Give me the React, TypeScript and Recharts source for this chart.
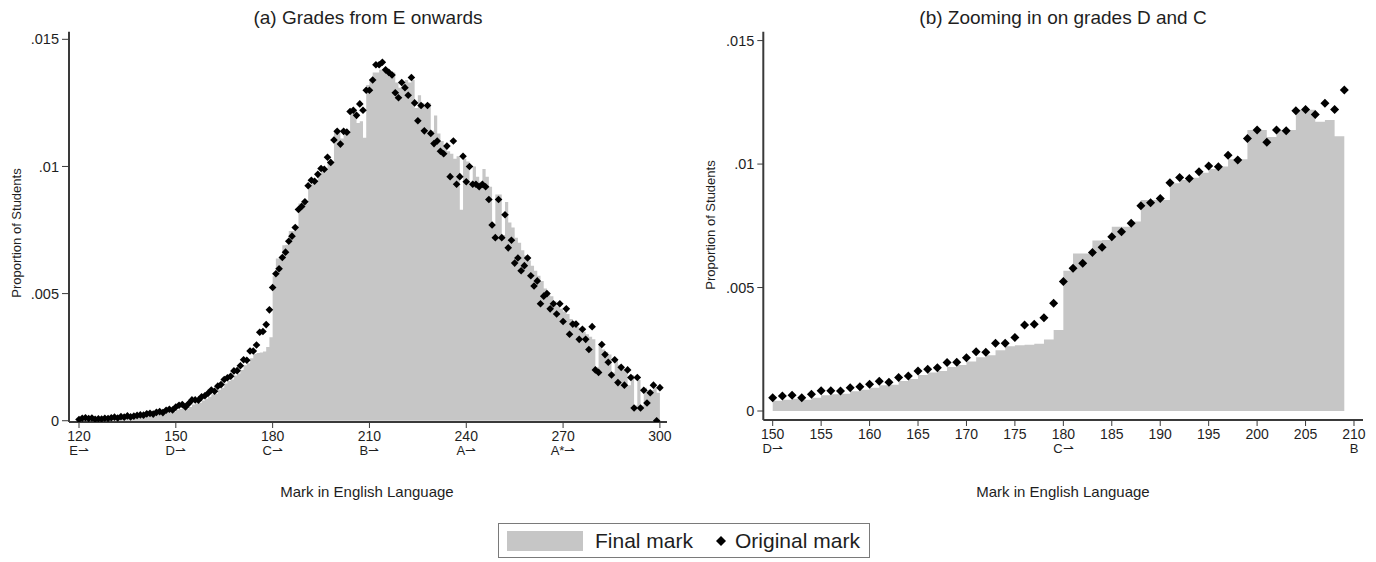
import React from 'react';
import { ComposedChart, Area, Scatter, XAxis, YAxis } from 'recharts';

// Share of students at each mark, 120..300
const FIRST_MARK = 120;

const ORIGINAL_SHARE = [
  0.00005, 0.0001, 0.00012, 0.00009, 0.00011, 0.00006, 0.00008, 0.00007, 0.0001, 0.00009,
  0.00012, 0.00014, 0.00011, 0.00016, 0.00014, 0.00019, 0.00015, 0.00018, 0.00021, 0.00023,
  0.00022, 0.00027, 0.00029, 0.00026, 0.00033, 0.00036, 0.00032, 0.00041, 0.00045, 0.00042,
  0.00054, 0.00061, 0.00064, 0.00054, 0.00068, 0.00082, 0.00082, 0.00081, 0.00094, 0.00098,
  0.00108, 0.00121, 0.00116, 0.00136, 0.00142, 0.00162, 0.00169, 0.00175, 0.00196, 0.00197,
  0.00216, 0.0024, 0.00238, 0.00274, 0.00274, 0.00298, 0.00348, 0.00351, 0.00378, 0.00436,
  0.00524, 0.00578, 0.00598, 0.00642, 0.00663, 0.00706, 0.00726, 0.0076, 0.00831, 0.00843,
  0.00861, 0.00924, 0.00946, 0.00942, 0.00969, 0.00992, 0.00989, 0.01036, 0.01016, 0.01104,
  0.01138, 0.01088, 0.01138, 0.01135, 0.01216, 0.01221, 0.01201, 0.01246, 0.01221, 0.013,
  0.013, 0.0134, 0.014, 0.014, 0.0141, 0.0138, 0.0137, 0.0136, 0.0129, 0.0127,
  0.0133, 0.0131, 0.0128, 0.0135, 0.0125, 0.0118, 0.0124, 0.0114, 0.0124, 0.0113,
  0.0109, 0.011, 0.0106, 0.0105, 0.0108, 0.0096, 0.011, 0.0093, 0.0096, 0.0104,
  0.0094, 0.01, 0.0093, 0.0093, 0.0092, 0.0093, 0.0092, 0.0087, 0.0077, 0.0072,
  0.0087, 0.0072, 0.0081, 0.0068, 0.0071, 0.0062, 0.0064, 0.0059, 0.0061, 0.0064,
  0.0057, 0.0053, 0.0055, 0.0046, 0.0049, 0.005, 0.0044, 0.0046, 0.0042, 0.0046,
  0.0039, 0.0044, 0.0034, 0.0038, 0.0038, 0.0032, 0.0036, 0.0032, 0.0028, 0.0037,
  0.002, 0.0019, 0.003, 0.0026, 0.0023, 0.0018, 0.0024, 0.0015, 0.0021, 0.0014,
  0.002, 0.0017, 0.0005, 0.0017, 0.0005, 0.0012, 0.0007, 0.0011, 0.0014, 0.0,
  0.0013,
];

const FINAL_SHARE = [
  0.00003, 0.00006, 0.00008, 0.00007, 0.00008, 0.00005, 0.00006, 0.00006, 0.00008, 0.00007,
  0.00009, 0.00011, 0.00009, 0.00012, 0.00011, 0.00015, 0.00012, 0.00014, 0.00017, 0.00019,
  0.00018, 0.00022, 0.00023, 0.00021, 0.00027, 0.00029, 0.00026, 0.00034, 0.00037, 0.00035,
  0.00042, 0.00046, 0.0005, 0.00046, 0.00054, 0.00064, 0.00068, 0.0007, 0.0008, 0.00086,
  0.00094, 0.00104, 0.00106, 0.00122, 0.0013, 0.00146, 0.00156, 0.00162, 0.00178, 0.00186,
  0.002, 0.00218, 0.00226, 0.00246, 0.00262, 0.00266, 0.00268, 0.00272, 0.0029, 0.00328,
  0.00568, 0.00638, 0.00638, 0.0069, 0.00692, 0.00746, 0.00746, 0.00767, 0.00854, 0.00854,
  0.00854, 0.00922, 0.00935, 0.00945, 0.00965, 0.0098, 0.0099, 0.0102, 0.0102, 0.01138,
  0.01138, 0.0111, 0.01138, 0.01138, 0.0122, 0.0122, 0.01171, 0.01178, 0.01113, 0.0132,
  0.0134, 0.0137, 0.0137, 0.0138, 0.0138, 0.0137, 0.0136, 0.0137, 0.0133, 0.0131,
  0.0132, 0.0134, 0.0133, 0.0134, 0.0123, 0.0128, 0.0125, 0.0124, 0.0125, 0.0114,
  0.012, 0.0113, 0.011, 0.0108, 0.0106, 0.0105, 0.0103, 0.0104, 0.0083, 0.0103,
  0.0102, 0.0094, 0.01, 0.0096, 0.0094, 0.0099, 0.0096, 0.0092, 0.0077, 0.0089,
  0.0089, 0.0073, 0.0086, 0.0078, 0.0076, 0.0072, 0.007, 0.0067, 0.0065, 0.0063,
  0.0061, 0.0059, 0.0057, 0.0055, 0.0052, 0.005, 0.0049, 0.0047, 0.0045, 0.0044,
  0.0043, 0.0042, 0.004, 0.0039, 0.0037, 0.0036, 0.0035, 0.0034, 0.0033, 0.0032,
  0.0021, 0.003, 0.0028, 0.0027, 0.0026, 0.0019, 0.0024, 0.0022, 0.0021, 0.002,
  0.0014, 0.0018, 0.0006, 0.0016, 0.0006, 0.0013, 0.0012, 0.0012, 0.0013, 0.0011,
  0.0012,
];

const SHARE_TICKS = [0, 0.005, 0.01, 0.015];
const SHARE_LABELS = ['0', '.005', '.01', '.015'];

const LEFT_TICKS = [120, 150, 180, 210, 240, 270, 300];
const LEFT_GRADES: Record<number, string> = {
  120: 'E⇀', 150: 'D⇀', 180: 'C⇀', 210: 'B⇀', 240: 'A⇀', 270: 'A*⇀',
};

const RIGHT_TICKS = [150, 155, 160, 165, 170, 175, 180, 185, 190, 195, 200, 205, 210];
const RIGHT_GRADES: Record<number, string> = { 150: 'D⇀', 180: 'C⇀', 210: 'B' };

const rows = ORIGINAL_SHARE.map((v, i) => ({
  mark: FIRST_MARK + i,
  original: v,
  final: FINAL_SHARE[i],
}));
const zoomRows = rows.filter((r) => r.mark >= 150 && r.mark <= 209);

const BAR_GREY = '#c6c6c6';
const AXIS_COL = '#3a3a3a';
const FRAME_COL = '#9a9a9a';
const TEXT_COL = '#1e1e1e';
const FONT = '"Liberation Sans", Arial, sans-serif';

const makeDiamond = (r: number) => (props: any) => {
  const { cx, cy } = props;
  if (cx == null || cy == null) return <g />;
  return (
    <polygon
      points={`${cx},${cy - r} ${cx + r},${cy} ${cx},${cy + r} ${cx - r},${cy}`}
      fill="#000"
    />
  );
};

// number on the first line, grade boundary under it
const makeMarkTick = (grades: Record<number, string>) => (props: any) => {
  const { x, y, payload } = props;
  const g = grades[payload.value];
  return (
    <g>
      <text x={x} y={y} dy="0.71em" textAnchor="middle" fontSize={14} fill={TEXT_COL}>
        {payload.value}
      </text>
      {g ? (
        <text x={x} y={y + 15} dy="0.71em" textAnchor="middle" fontSize={13} fill={TEXT_COL}>
          {g}
        </text>
      ) : null}
    </g>
  );
};

type PanelProps = {
  data: typeof rows;
  xDomain: [number, number];
  yDomain: [number, number];
  xTicks: number[];
  grades: Record<number, string>;
  margin: { top: number; right: number; bottom: number; left: number };
  width: number;
  height: number;
  dotR: number;
  tickSize: number;
};

const Panel = ({ data, xDomain, yDomain, xTicks, grades, margin, width, height, dotR, tickSize }: PanelProps) => (
  <ComposedChart width={width} height={height} data={data} margin={margin}>
    {/* light frame on the top and right */}
    <XAxis
      xAxisId="frame"
      orientation="top"
      type="number"
      domain={xDomain}
      allowDataOverflow
      tick={false}
      tickLine={false}
      height={0}
      axisLine={{ stroke: FRAME_COL, strokeWidth: 1.5 }}
    />
    <YAxis
      yAxisId="frame"
      orientation="right"
      type="number"
      domain={yDomain}
      allowDataOverflow
      tick={false}
      tickLine={false}
      width={0}
      axisLine={{ stroke: FRAME_COL, strokeWidth: 1.5 }}
    />
    <XAxis
      dataKey="mark"
      type="number"
      domain={xDomain}
      allowDataOverflow
      ticks={xTicks}
      interval={0}
      height={85}
      tickSize={6}
      tickMargin={3}
      tickLine={{ stroke: AXIS_COL }}
      axisLine={{ stroke: AXIS_COL, strokeWidth: 2 }}
      tick={makeMarkTick(grades)}
    />
    <YAxis
      type="number"
      domain={yDomain}
      allowDataOverflow
      ticks={SHARE_TICKS}
      interval={0}
      width={60}
      tickSize={tickSize}
      tickMargin={3}
      tickLine={{ stroke: AXIS_COL }}
      axisLine={{ stroke: AXIS_COL, strokeWidth: 2 }}
      tick={{ fontSize: 14.5, fill: TEXT_COL }}
      tickFormatter={(v: number) => SHARE_LABELS[SHARE_TICKS.indexOf(v)] ?? String(v)}
    />
    <Area
      dataKey="final"
      type="stepAfter"
      stroke="none"
      fill={BAR_GREY}
      fillOpacity={1}
      isAnimationActive={false}
      dot={false}
      activeDot={false}
    />
    <Scatter dataKey="original" shape={makeDiamond(dotR)} isAnimationActive={false} />
  </ComposedChart>
);

const Title = ({ text, left, width }: { text: string; left: number; width: number }) => (
  <div style={{ position: 'absolute', left, width, top: 8, textAlign: 'center', fontSize: 19, lineHeight: '20px', color: TEXT_COL }}>
    {text}
  </div>
);

const AxisTitle = ({ text, cx, cy, rotate }: { text: string; cx: number; cy: number; rotate?: boolean }) => (
  <div
    style={{
      position: 'absolute',
      left: cx - 150,
      top: cy - 10,
      width: 300,
      height: 20,
      lineHeight: '20px',
      textAlign: 'center',
      fontSize: rotate ? 13 : 15,
      color: TEXT_COL,
      transform: rotate ? 'rotate(-90deg)' : undefined,
    }}
  >
    {text}
  </div>
);

export default function App() {
  return (
    <div style={{ position: 'absolute', left: 0, top: 0, width: 1376, height: 562, background: '#fff', fontFamily: FONT, overflow: 'hidden' }}>
      <Title text="(a) Grades from E onwards" left={69} width={598} />
      <Title text="(b) Zooming in on grades D and C" left={763} width={600} />

      <div style={{ position: 'absolute', left: 0, top: 0 }}>
        <Panel
          data={rows}
          xDomain={[116.9, 302.2]}
          yDomain={[-0.00005, 0.0153]}
          xTicks={LEFT_TICKS}
          grades={LEFT_GRADES}
          margin={{ top: 31.7, right: 33, bottom: 13, left: 9 }}
          width={700}
          height={520}
          dotR={3.8}
          tickSize={7}
        />
      </div>
      <div style={{ position: 'absolute', left: 690, top: 0 }}>
        <Panel
          data={zoomRows}
          xDomain={[149.03, 210.93]}
          yDomain={[-0.000364, 0.01536]}
          xTicks={RIGHT_TICKS}
          grades={RIGHT_GRADES}
          margin={{ top: 31.7, right: 13, bottom: 15, left: 13.3 }}
          width={686}
          height={520}
          dotR={4.5}
          tickSize={6}
        />
      </div>

      <AxisTitle text="Proportion of Students" cx={17} cy={233} rotate />
      <AxisTitle text="Proportion of Students" cx={711} cy={225} rotate />
      <AxisTitle text="Mark in English Language" cx={367} cy={492} />
      <AxisTitle text="Mark in English Language" cx={1063} cy={492} />

      {/* legend */}
      <div
        style={{
          position: 'absolute',
          left: 498,
          top: 523,
          width: 370,
          height: 33,
          border: '1.5px solid #7a7a7a',
          display: 'flex',
          alignItems: 'center',
          fontSize: 21,
          color: TEXT_COL,
        }}
      >
        <div style={{ width: 76, height: 20, background: BAR_GREY, marginLeft: 8 }} />
        <span style={{ marginLeft: 12 }}>Final mark</span>
        <svg width={12} height={12} style={{ marginLeft: 22 }}>
          <polygon points="6,1 11,6 6,11 1,6" fill="#000" />
        </svg>
        <span style={{ marginLeft: 8 }}>Original mark</span>
      </div>
    </div>
  );
}
